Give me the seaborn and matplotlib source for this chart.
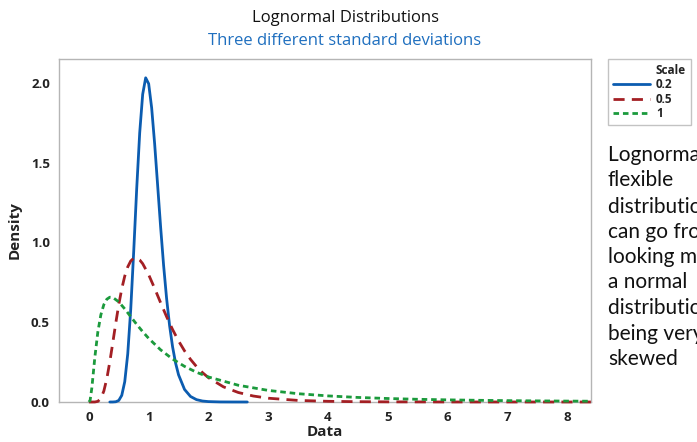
import matplotlib
matplotlib.use("Agg")
import matplotlib.pyplot as plt
from matplotlib.lines import Line2D
import seaborn as sns
import pandas as pd

# ---- data ----
scale_labels = ["0.2", "0.5", "1"]

x_s02 = [0.35, 0.40, 0.45, 0.50, 0.55, 0.60, 0.65, 0.70, 0.75, 0.80, 0.85, 0.90, 0.95,
         1.00, 1.05, 1.10, 1.15, 1.20, 1.25, 1.30, 1.35, 1.40, 1.45, 1.50, 1.60, 1.70,
         1.80, 1.90, 2.00, 2.20, 2.40, 2.65]
y_s02 = [0.0, 0.0001, 0.0015, 0.0098, 0.0416, 0.1274, 0.3016, 0.581, 0.945, 1.338, 1.687,
         1.929, 2.032, 1.995, 1.844, 1.619, 1.359, 1.097, 0.856, 0.649, 0.479, 0.346,
         0.2449, 0.1703, 0.0788, 0.0347, 0.0148, 0.0061, 0.0025, 0.0004, 0.0001, 0.0]

x_s05 = [0.0, 0.05, 0.10, 0.15, 0.20, 0.25, 0.30, 0.35, 0.40, 0.45, 0.50, 0.55, 0.60,
         0.65, 0.70, 0.75, 0.80, 0.85, 0.90, 1.00, 1.10, 1.20, 1.30, 1.40, 1.50, 1.60,
         1.70, 1.80, 1.90, 2.00, 2.25, 2.50, 2.75, 3.00, 3.50, 4.00, 4.50, 5.00, 6.00,
         7.00, 8.00, 8.40]
y_s05 = [0.0, 0.0, 0.0002, 0.0040, 0.0225, 0.0684, 0.1465, 0.2515, 0.3721, 0.4953,
         0.6104, 0.7098, 0.7891, 0.8469, 0.8838, 0.9016, 0.9028, 0.8904, 0.8671, 0.7979,
         0.7123, 0.6222, 0.5348, 0.4544, 0.3829, 0.3206, 0.2672, 0.2221, 0.1842, 0.1526,
         0.0952, 0.0595, 0.0375, 0.0238, 0.0099, 0.0043, 0.0019, 0.0009, 0.0002, 0.0001,
         0.0, 0.0]

x_s1 = [0.0, 0.02, 0.05, 0.075, 0.10, 0.15, 0.20, 0.25, 0.30, 0.35, 0.40, 0.50, 0.60,
        0.70, 0.80, 0.90, 1.00, 1.20, 1.40, 1.60, 1.80, 2.00, 2.50, 3.00, 3.50, 4.00,
        4.50, 5.00, 5.50, 6.00, 6.50, 7.00, 7.50, 8.00, 8.40]
y_s1 = [0.0, 0.0095, 0.0898, 0.1858, 0.2815, 0.4398, 0.5463, 0.6104, 0.6442, 0.6569,
        0.6555, 0.6275, 0.5836, 0.5348, 0.4864, 0.4408, 0.3989, 0.3270, 0.2693, 0.2233,
        0.1865, 0.1569, 0.1049, 0.0727, 0.0520, 0.0382, 0.0286, 0.0219, 0.0170, 0.0134,
        0.0107, 0.0086, 0.0070, 0.0057, 0.0049]

x_ticks = [0, 1, 2, 3, 4, 5, 6, 7, 8]
y_ticks = [0.0, 0.5, 1.0, 1.5, 2.0]
y_tick_labels = ["0.0", "0.5", "1.0", "1.5", "2.0"]

title = "Lognormal Distributions"
subtitle = "Three different standard deviations"
side_lines = ["Lognormal is a", "flexible", "distribution, it", "can go from",
              "looking much like", "a normal", "distribution to", "being very", "skewed"]

# ---- styling ----
sns.set_theme(style="white")
plt.rcParams["font.family"] = ["Open Sans", "DejaVu Sans"]

colors = ["#0b5cb0", "#a31f24", "#1b9a3c"]
styles = ["-", (0, (4.0, 2.6)), (0, (2.0, 1.4))]

fig = plt.figure(figsize=(6.97, 4.42), dpi=100)
ax = fig.add_axes([59 / 697, 1 - 402 / 442, (591 - 59) / 697, (402 - 59) / 442])

series = [(x_s02, y_s02), (x_s05, y_s05), (x_s1, y_s1)]
for (xs, ys), c, ls, lab in zip(series, colors, styles, scale_labels):
    df = pd.DataFrame({"Data": xs, "Density": ys})
    sns.lineplot(data=df, x="Data", y="Density", ax=ax, color=c, linestyle=ls,
                 linewidth=2.0, clip_on=False, zorder=3, legend=False)

ax.set_xlim(-0.5, 8.4)
ax.set_ylim(0, 2.15)
ax.set_xticks(x_ticks)
ax.set_xticklabels([str(t) for t in x_ticks])
ax.set_yticks(y_ticks)
ax.set_yticklabels(y_tick_labels)

for s in ax.spines.values():
    s.set_color("#b5b5b5")
    s.set_linewidth(1.0)
ax.tick_params(axis="both", direction="out", length=4, width=1, color="#b5b5b5",
               labelsize=9.5, labelcolor="#222222", pad=2.5)
for lbl in ax.get_xticklabels() + ax.get_yticklabels():
    lbl.set_fontweight("bold")

ax.set_xlabel("Data", fontsize=11, fontweight="bold", color="#222222", labelpad=1)
ax.set_ylabel("Density", fontsize=11, fontweight="bold", color="#222222", labelpad=7)

fig.text(345 / 697, 1 - 18 / 442, title, ha="center", va="center", fontsize=12,
         color="#111111")
fig.text(345 / 697, 1 - 41 / 442, subtitle, ha="center", va="center", fontsize=12,
         color="#1f6fbf")

# legend
handles = [Line2D([], [], color="none")]
labels = ["Scale"]
for c, ls, lab in zip(colors, styles, scale_labels):
    handles.append(Line2D([], [], color=c, linestyle=ls, linewidth=2.0))
    labels.append(lab)
leg = fig.legend(handles, labels, loc="upper left",
                 bbox_to_anchor=(608 / 697, 1 - 59 / 442), frameon=True,
                 fontsize=8.5, handlelength=3.1, handletextpad=0.5,
                 labelspacing=0.1, borderpad=0.45, borderaxespad=0)
leg.get_frame().set_edgecolor("#b5b5b5")
leg.get_frame().set_linewidth(1.0)
leg.get_frame().set_boxstyle("square", pad=0)
for i, t in enumerate(leg.get_texts()):
    t.set_fontweight("bold")
    t.set_color("#222222")

# side text (cut off by the figure edge, as in the original)
y0 = 155
for i, line in enumerate(side_lines):
    fig.text(608 / 697, 1 - (y0 + i * 25.5) / 442, line, ha="left", va="center",
             fontsize=15, color="#111111", family=["Lato", "DejaVu Sans"])

fig.savefig("out.png", dpi=100)
